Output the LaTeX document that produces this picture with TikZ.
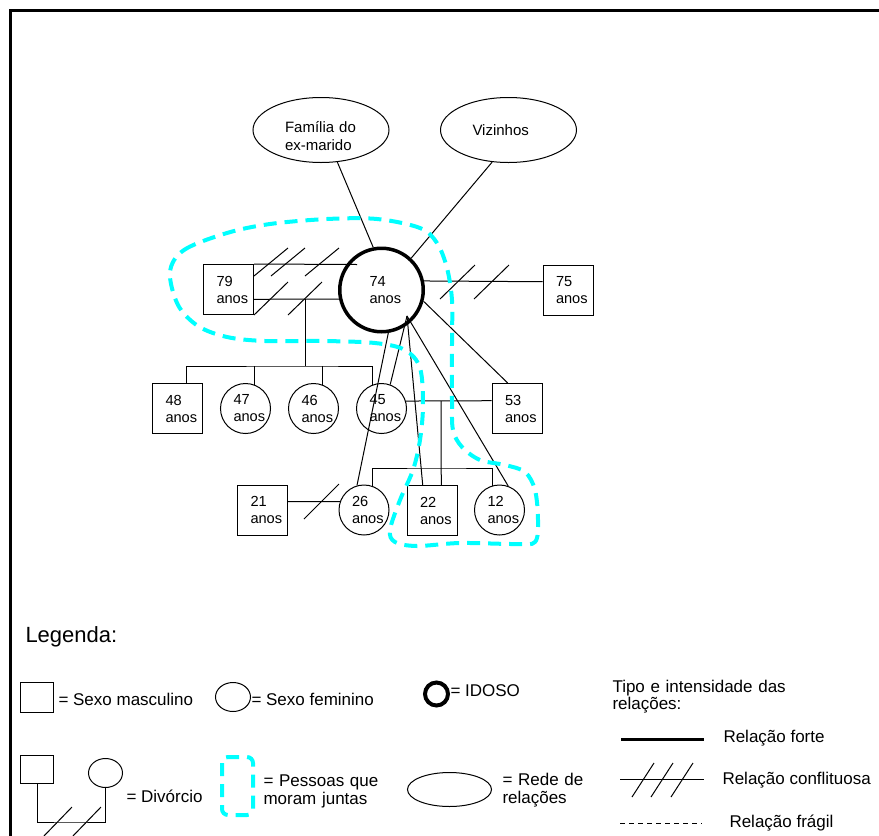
\documentclass[tikz,border=0pt]{standalone}
\usepackage{fontspec}
\setmainfont{Liberation Sans}
\usepackage{tikz}
\usetikzlibrary{shapes.geometric}
\definecolor{juntocyan}{RGB}{0,255,255}

\begin{document}
\begin{tikzpicture}[x=1pt, y=-1pt, line width=1pt,
            man/.style = {draw, rectangle, minimum size=50pt, text width=24pt, align=left, font=\fontsize{14.6}{17}\selectfont},
            woman/.style = {man, circle},
            elder/.style = {woman, line width=3.5pt, minimum size=83.5pt},
            net/.style = {draw, ellipse, inner sep=0pt, minimum width=136pt, minimum height=65pt, text width=72pt, align=left, font=\fontsize{15}{18}\selectfont},
            home/.style = {draw=juntocyan, line width=4pt, dash pattern=on 13pt off 8pt},
            legtext/.style = {anchor=base west, inner sep=0pt, align=left, font=\fontsize{17}{18}\selectfont}]
            \useasboundingbox (0,0) rectangle (879,836);
            \draw[line width=3pt] (10.5,836) -- (10.5,10.5) -- (879,10.5);

            \node[net] (fam) at (321,130) {\rule{0pt}{24pt}Família do\\ex-marido};
            \node[net] (viz) at (508.5,130) {Vizinhos};
            \node[elder] (i74) at (381.5,290) {74\\anos};
            \node[man] (m79) at (228.5,289.5) {79\\anos};
            \node[man] (m75) at (568,290.5) {75\\anos};
            \node[man] (m48) at (177.5,408.5) {48\\anos};
            \node[woman] (w47) at (245.5,408.5) {47\\anos};
            \node[woman] (w46) at (313.5,408.5) {46\\anos};
            \node[woman] (w45) at (381.5,408.5) {45\\anos};
            \node[man] (m53) at (517,408.5) {53\\anos};
            \node[man] (m21) at (262.5,510) {21\\anos};
            \node[woman] (w26) at (364,510) {26\\anos};
            \node[man] (m22) at (432,510.5) {22\\anos};
            \node[woman] (w12) at (499.5,510) {12\\anos};

            \coordinate (k74) at (357,264.5);
            \coordinate (div1) at (305,299);
            \coordinate (bar1) at (305,366);
            \coordinate (mar2) at (441,401);
            \coordinate (bar2) at (441,468);
            \coordinate (hub) at (407,316);

            \draw (fam.-63) -- (i74.101);
            \draw (viz.-117) -- (i74.47);
            \draw (m79.north east) -- (k74);
            \foreach \x in {254,271,305} \draw (\x,276) -- ++(34,-28);
            \draw (m79.-21) -- (i74.192);
            \foreach \x in {254,288} \draw (\x,315) -- ++(34,-33);
            \draw (i74.12) -- (m75.161);
            \foreach \x in {440,474} \draw (\x,299) -- ++(35,-34);
            \draw (i74.-15) -- (m53.110);

            \draw (div1) -- (bar1);
            \draw (m48.71) |- (bar1) -| (w45.110);
            \foreach \n in {w47.70, w46.70} \draw (\n) -- (\n |- bar1);

            \draw (w45.17) -- (m53.163);
            \draw (mar2) -- (m22.70);
            \draw (w26.71) |- (bar2) -| (w12.107);

            \foreach \n in {w45.70, m22.110, w12.70} \draw (hub) -- (\n);
            \draw (i74.-81) -- (w26.106);

            \draw (m21.18) -- (w26.161);
            \draw (304,519) -- ++(35,-35);

            \draw[home] plot[smooth cycle, tension=0.55] coordinates {(170,272) (184,250) (227,233) (270,224) (327,219) (377,219) (420,228) (437,243) (447,268) (452,300) (452,340) (452,400) (453,430) (462,447) (480,460) (505,465) (525,472) (535,490) (538,520) (535,542) (515,544) (460,543) (417,546) (395,542) (390,530) (400,500) (413,470) (420,440) (423,405) (420,368) (405,350) (375,343) (323,341) (265,341) (227,337) (198,326) (178,305)};

            \node[anchor=base west, inner sep=0pt, font=\fontsize{22}{26}\selectfont] (tleg) at (25,642) {Legenda:};

            \node[draw, minimum width=33pt, minimum height=30pt] (lmasc) at (37,697.5) {};
            \node[legtext] (tmasc) at (58,705) {= Sexo masculino};
            \node[draw, ellipse, minimum width=35pt, minimum height=29pt] (lfem) at (233,697) {};
            \node[legtext] (tfem) at (251,705) {= Sexo feminino};
            \node[draw, circle, line width=4pt, minimum size=23pt] (lidoso) at (436.5,694) {};
            \node[legtext] (tidoso) at (450,696) {= IDOSO};
            \node[legtext, text width=200pt, font=\fontsize{17}{16.7}\selectfont] (ttipo) at (612,692.7) {Tipo e intensidade das\\relações:};

            \draw[line width=3pt] (621,739) -- (704,739);
            \node[legtext] (tforte) at (723,742) {Relação forte};
            \draw (620,779) -- (704,779);
            \foreach \x in {632,651,671} \draw (\x,797) -- ++(22,-34);
            \node[legtext] (tconf) at (722,784) {Relação conflituosa};
            \draw[line width=0.8pt, dash pattern=on 5pt off 4pt] (620,823) -- (702,823);
            \node[legtext] (tfrag) at (729,827) {Relação frágil};

            \node[draw, minimum width=33pt, minimum height=28pt] (dmasc) at (37,769.5) {};
            \node[draw, ellipse, minimum width=34pt, minimum height=29pt] (dfem) at (105.5,773) {};
            \coordinate (dbar) at (70,822);
            \draw (dmasc.south) |- (dbar) -| (dfem.south);
            \foreach \x in {43,72} \draw (\x,837) -- ++(29,-30);
            \node[legtext] (tdiv) at (126,802) {= Divórcio};
            \draw[home, rounded corners=6pt] (222,757) rectangle (253,815);
            \node[legtext, text width=120pt] (tjunt) at (263,786) {= Pessoas que\\moram juntas};
            \node[draw, ellipse, minimum width=84pt, minimum height=34pt] (lrede) at (449.5,789.5) {};
            \node[legtext, text width=100pt] (trede) at (502,785) {= Rede de\\relações};
        \end{tikzpicture}
\end{document}
